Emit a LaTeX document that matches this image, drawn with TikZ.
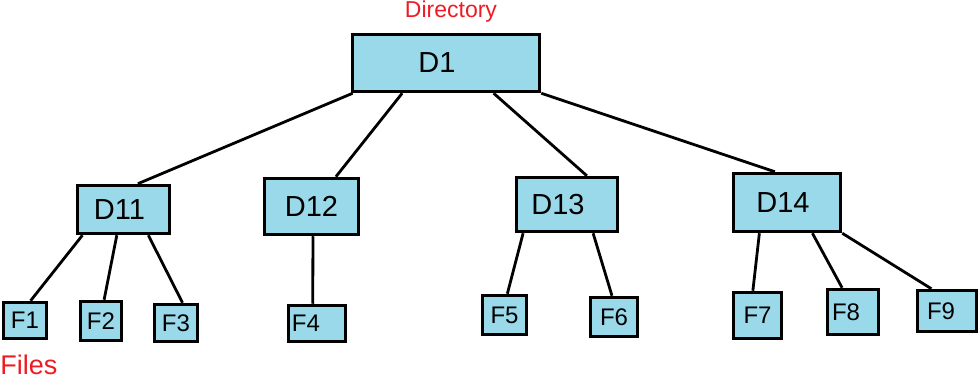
\documentclass[tikz,border=0pt]{standalone}
\usepackage{fontspec}
\setmainfont{Liberation Sans}
\usepackage{xcolor}
\usetikzlibrary{calc, positioning}
\definecolor{boxblue}{RGB}{153,217,234}
\definecolor{notered}{RGB}{237,28,36}
\tikzstyle{dirbox} = [rectangle, draw=black, line width=3.5pt, fill=boxblue, inner sep=0pt, font=\fontsize{29}{32}\selectfont]
\tikzstyle{filebox} = [rectangle, draw=black, line width=3.5pt, fill=boxblue, inner sep=0pt, font=\fontsize{24}{26}\selectfont]
\tikzstyle{link} = [line width=2.8pt]

\begin{document}
\begin{tikzpicture}[x=1pt, y=-1pt]
        \useasboundingbox (0,0) rectangle (978,382);

        % directories
        \node (D1) [dirbox, minimum width=187pt, minimum height=57pt] at (446,63) {D1\kern18pt};
        \node (D11) [dirbox, minimum width=92pt, minimum height=48pt] at (123.5,209.5) {D11\kern8pt};
        \node (D12) [dirbox, minimum width=94pt, minimum height=56pt] at (311.5,206.5) {D12};
        \node (D13) [dirbox, minimum width=101pt, minimum height=54pt] at (567,204.5) {D13\kern18pt};
        \node (D14) [dirbox, minimum width=107pt, minimum height=58pt] at (787,202.5) {D14\kern8pt};

        % files
        \node (F1) [filebox, minimum width=43pt, minimum height=36pt] at (25,320.5) {F1};
        \node (F2) [filebox, minimum width=41pt, minimum height=39pt] at (101,321) {F2};
        \node (F3) [filebox, minimum width=43pt, minimum height=37pt] at (176,323) {F3};
        \node (F4) [filebox, minimum width=57pt, minimum height=36pt] at (317,323.5) {F4\kern22pt};
        \node (F5) [filebox, minimum width=44pt, minimum height=39pt] at (504.5,315) {F5};
        \node (F6) [filebox, minimum width=47pt, minimum height=39pt] at (614,317) {F6};
        \node (F7) [filebox, minimum width=48pt, minimum height=46pt] at (757.5,315.5) {F7};
        \node (F8) [filebox, minimum width=51pt, minimum height=45pt] at (853,312) {F8\kern14pt};
        \node (F9) [filebox, minimum width=59pt, minimum height=41pt] at (947,311) {F9\kern12pt};

        % labels
        \node (dirlabel) [text=notered, font=\fontsize{23}{26}\selectfont] at (451,12) {Directory};
        \node (filelabel) [text=notered, font=\fontsize{27}{30}\selectfont] at (29,365) {Files};

        % links
        \draw [link] ($(D1.south west)!0.01!(D1.south east)$) -- ($(D11.north west)!0.65!(D11.north east)$);
        \draw [link] ($(D1.south west)!0.27!(D1.south east)$) -- ($(D12.north west)!0.75!(D12.north east)$);
        \draw [link] ($(D1.south west)!0.75!(D1.south east)$) -- ($(D13.north west)!0.69!(D13.north east)$);
        \draw [link] (D1.south east) -- ($(D14.north west)!0.39!(D14.north east)$);

        \draw [link] ($(D11.south west)!0.07!(D11.south east)$) -- ($(F1.north west)!0.62!(F1.north east)$);
        \draw [link] ($(D11.south west)!0.43!(D11.south east)$) -- ($(F2.north west)!0.57!(F2.north east)$);
        \draw [link] ($(D11.south west)!0.76!(D11.south east)$) -- ($(F3.north west)!0.64!(F3.north east)$);

        \draw [link] ($(D12.south west)!0.515!(D12.south east)$) -- ($(F4.north west)!0.43!(F4.north east)$);

        \draw [link] ($(D13.south west)!0.08!(D13.south east)$) -- ($(F5.north west)!0.56!(F5.north east)$);
        \draw [link] ($(D13.south west)!0.75!(D13.south east)$) -- ($(F6.north west)!0.46!(F6.north east)$);

        \draw [link] ($(D14.south west)!0.25!(D14.south east)$) -- ($(F7.north west)!0.41!(F7.north east)$);
        \draw [link] ($(D14.south west)!0.73!(D14.south east)$) -- ($(F8.north west)!0.30!(F8.north east)$);
        \draw [link] (D14.south east) -- ($(F9.north west)!0.25!(F9.north east)$);
    \end{tikzpicture}
\end{document}
